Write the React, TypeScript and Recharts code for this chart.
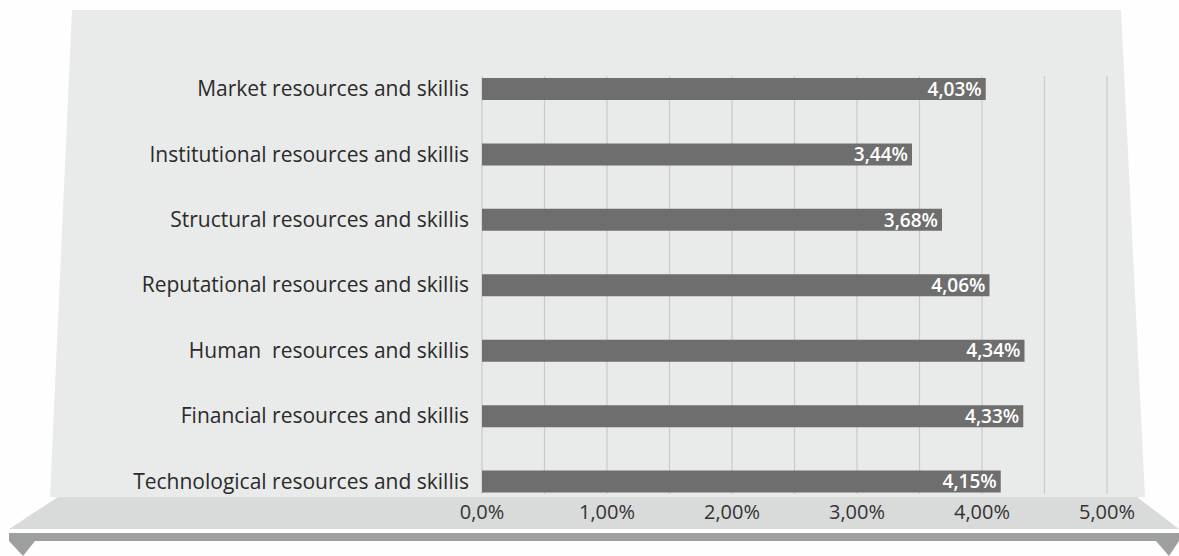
import { Bar, BarChart, CartesianGrid, LabelList, XAxis, YAxis } from 'recharts';

const categories = [
  'Market resources and skillis',
  'Institutional resources and skillis',
  'Structural resources and skillis',
  'Reputational resources and skillis',
  'Human\u00A0 resources and skillis',
  'Financial resources and skillis',
  'Technological resources and skillis',
];

const shares = [4.03, 3.44, 3.68, 4.06, 4.34, 4.33, 4.15];

const xTicks = [0, 0.5, 1, 1.5, 2, 2.5, 3, 3.5, 4, 4.5, 5];
const xTickLabels: Record<number, string> = {
  0: '0,0%',
  1: '1,00%',
  2: '2,00%',
  3: '3,00%',
  4: '4,00%',
  5: '5,00%',
};

const data = categories.map((name, i) => ({ name, value: shares[i] }));

const fmtPct = (v: number) => `${v.toFixed(2).replace('.', ',')}%`;

const FONT = '"Open Sans", "Noto Sans", sans-serif';

function Backdrop() {
  return (
    <svg width={1179} height={556} style={{ position: 'absolute', left: 0, top: 0 }}>
      <rect x={0} y={0} width={1179} height={556} fill="#fefefe" />
      <polygon points="72,10 1121,10 1145,497 50,497" fill="#e9eaea" />
      <polygon points="58,497 1137,497 1179,529 9,529" fill="#d9dada" />
      <rect x={9} y={533} width={1170} height={8} fill="#9e9f9f" />
      <polygon points="9,541 35,541 23,556" fill="#9e9f9f" />
      <polygon points="1156,541 1179,541 1169,556" fill="#9e9f9f" />
    </svg>
  );
}

export default function App() {
  return (
    <div style={{ position: 'fixed', left: 0, top: 0, width: 1179, height: 556 }}>
      <Backdrop />
      <div style={{ position: 'absolute', left: 0, top: 0 }}>
        <BarChart
          width={1179}
          height={556}
          data={data}
          layout="vertical"
          margin={{ top: 76, right: 72, bottom: 0, left: 0 }}
        >
          <CartesianGrid horizontal={false} stroke="#c9caca" strokeWidth={1.2} />
          <XAxis
            type="number"
            domain={[0, 5]}
            ticks={xTicks}
            interval={0}
            axisLine={false}
            tickLine={false}
            tickSize={0}
            tickMargin={11}
            height={62}
            tickFormatter={(v: number) => xTickLabels[v] ?? ''}
            tick={{ fill: '#333333', fontSize: 20, fontFamily: FONT }}
          />
          <YAxis
            type="category"
            dataKey="name"
            width={482}
            axisLine={false}
            tickLine={false}
            tickSize={0}
            tickMargin={13}
            interval={0}
            padding={{ top: -20, bottom: -20 }}
            tick={{ fill: '#2b2b2b', fontSize: 21, fontFamily: FONT }}
          />
          <Bar dataKey="value" fill="#6e6e6e" barSize={22} isAnimationActive={false}>
            <LabelList
              dataKey="value"
              position="insideRight"
              offset={4}
              formatter={(v: number) => fmtPct(v)}
              style={{ fill: '#ffffff', fontSize: 19, fontWeight: 600, fontFamily: FONT }}
            />
          </Bar>
        </BarChart>
      </div>
    </div>
  );
}
